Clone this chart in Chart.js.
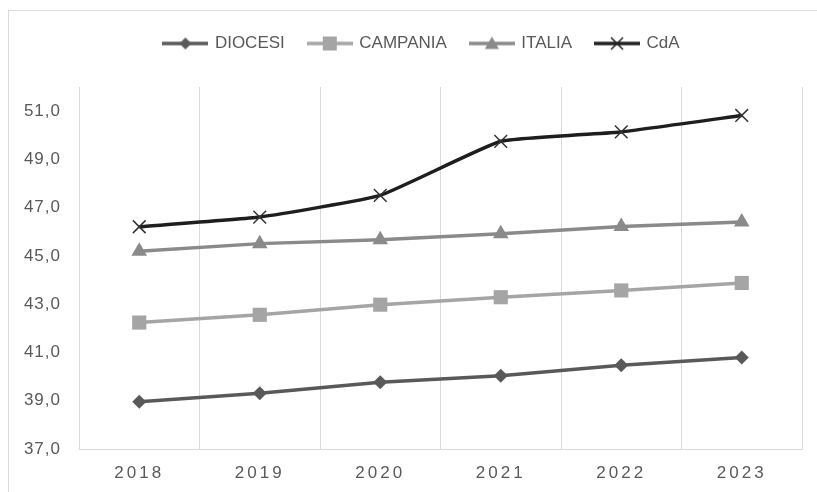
<!DOCTYPE html>
<html>
<head>
<meta charset="utf-8">
<script src="https://cdn.jsdelivr.net/npm/chart.js@4.4.1/dist/chart.umd.min.js"></script>
<style>
  html, body { margin: 0; padding: 0; background: #fff; overflow: hidden; }
  #frame { position: absolute; left: 8px; top: 10px; width: 1000px; height: 800px;
           border-left: 1px solid #d9d9d9; border-top: 1px solid #d9d9d9; }
  #wrap { position: absolute; left: 0; top: 0; width: 817px; height: 492px; }
</style>
</head>
<body>
<div id="frame"></div>
<div id="wrap"><canvas id="chart"></canvas></div>
<script>
var years = ['2018', '2019', '2020', '2021', '2022', '2023'];
var diocesi = [38.96, 39.31, 39.77, 40.04, 40.47, 40.79];
var campania = [42.24, 42.56, 42.98, 43.29, 43.57, 43.88];
var italia = [45.19, 45.51, 45.67, 45.92, 46.22, 46.41];
var cda = [46.21, 46.61, 47.51, 49.75, 50.14, 50.82];
var yTicks = [37, 39, 41, 43, 45, 47, 49, 51];

var textGray = '#595959';
var gridGray = '#d9d9d9';

// little line+marker pictures for the legend, like excel does
function makeIcon(color, shape, r) {
    var c = document.createElement('canvas');
    c.width = 46;
    c.height = 20;
    var g = c.getContext('2d');
    g.strokeStyle = color;
    g.lineWidth = 3.5;
    g.beginPath();
    g.moveTo(0, 10);
    g.lineTo(46, 10);
    g.stroke();
    g.fillStyle = color;
    g.beginPath();
    if (shape == 'diamond') {
        g.moveTo(23, 10 - r); g.lineTo(23 + r, 10); g.lineTo(23, 10 + r); g.lineTo(23 - r, 10);
        g.closePath(); g.fill();
    } else if (shape == 'square') {
        g.rect(23 - r, 10 - r, 2 * r, 2 * r); g.fill();
    } else if (shape == 'triangle') {
        g.moveTo(23, 10 - r); g.lineTo(23 + r, 10 + r * 0.8); g.lineTo(23 - r, 10 + r * 0.8);
        g.closePath(); g.fill();
    } else {
        g.lineWidth = 1.5;
        g.moveTo(23 - r, 10 - r); g.lineTo(23 + r, 10 + r);
        g.moveTo(23 + r, 10 - r); g.lineTo(23 - r, 10 + r);
        g.stroke();
    }
    return c;
}

var icons = [
    makeIcon('#595959', 'diamond', 6),
    makeIcon('#a5a5a5', 'square', 7),
    makeIcon('#8a8a8a', 'triangle', 7),
    makeIcon('#222222', 'cross', 6)
];

var data = {
    labels: years,
    datasets: [{
        label: 'DIOCESI',
        data: diocesi,
        borderColor: '#595959',
        backgroundColor: '#595959',
        borderWidth: 3.5,
        pointStyle: 'rectRot',
        pointRadius: 7,
        pointBorderWidth: 0
    }, {
        label: 'CAMPANIA',
        data: campania,
        borderColor: '#a5a5a5',
        backgroundColor: '#a5a5a5',
        borderWidth: 3.5,
        pointStyle: 'rect',
        pointRadius: 10,
        pointBorderWidth: 0
    }, {
        label: 'ITALIA',
        data: italia,
        borderColor: '#8a8a8a',
        backgroundColor: '#8a8a8a',
        borderWidth: 3.5,
        pointStyle: 'triangle',
        pointRadius: 9,
        pointBorderWidth: 0
    }, {
        label: 'CdA',
        data: cda,
        borderColor: '#1e1e1e',
        backgroundColor: '#1e1e1e',
        borderWidth: 3.5,
        tension: 0.12,
        pointStyle: 'crossRot',
        pointRadius: 9,
        pointBorderWidth: 1.5,
        pointBorderColor: '#333333'
    }]
};

// legend needs room under it + a small shift to the right
var legendSpace = {
    id: 'legendSpace',
    beforeInit: function (chart) {
        var fit = chart.legend.fit;
        chart.legend.fit = function () {
            fit.bind(chart.legend)();
            this.height += 25;
        };
    },
    afterLayout: function (chart) {
        chart.legend.left += 42;
    }
};

// letter spacing on tick labels
var tickSpacing = {
    id: 'tickSpacing',
    beforeDraw: function (chart) {
        [['x', '3px'], ['y', '1px']].forEach(function (p) {
            var sc = chart.scales[p[0]];
            if (sc._spaced) return;
            var orig = sc.drawLabels;
            sc.drawLabels = function (area) {
                this.ctx.save();
                this.ctx.letterSpacing = p[1];
                orig.call(this, area);
                this.ctx.restore();
            };
            sc._spaced = true;
        });
    }
};

var config = {
    type: 'line',
    data: data,
    options: {
        responsive: true,
        maintainAspectRatio: false,
        animation: false,
        layout: { padding: { top: 11, right: 15, left: 0, bottom: 0 } },
        plugins: {
            legend: {
                position: 'top',
                labels: {
                    usePointStyle: true,
                    pointStyleWidth: 42,
                    padding: 24,
                    color: textGray,
                    font: { family: 'Liberation Sans', size: 17 },
                    generateLabels: function (chart) {
                        return chart.data.datasets.map(function (ds, i) {
                            return {
                                text: ds.label,
                                pointStyle: icons[i],
                                fontColor: textGray,
                                fillStyle: 'transparent',
                                strokeStyle: 'transparent',
                                lineWidth: 0,
                                hidden: false,
                                datasetIndex: i
                            };
                        });
                    }
                }
            },
            tooltip: { enabled: false }
        },
        scales: {
            x: {
                offset: true,
                grid: { offset: true, color: gridGray, lineWidth: 1, drawTicks: false },
                border: { color: gridGray, width: 1 },
                ticks: {
                    color: textGray,
                    padding: 14,
                    font: { family: 'Liberation Sans', size: 17 }
                },
                afterFit: function (scale) { scale.height = 43; }
            },
            y: {
                min: 37,
                max: 52,
                grid: { display: false, drawTicks: false },
                border: { display: false },
                ticks: {
                    color: textGray,
                    padding: 18,
                    font: { family: 'Liberation Sans', size: 17 },
                    callback: function (v) { return v.toFixed(1).replace('.', ','); }
                },
                afterBuildTicks: function (scale) {
                    scale.ticks = yTicks.map(function (v) { return { value: v }; });
                },
                afterFit: function (scale) { scale.width = 79; }
            }
        }
    },
    plugins: [legendSpace, tickSpacing]
};

var ctx = document.getElementById('chart').getContext('2d');
var myChart = new Chart(ctx, config);
</script>
</body>
</html>
